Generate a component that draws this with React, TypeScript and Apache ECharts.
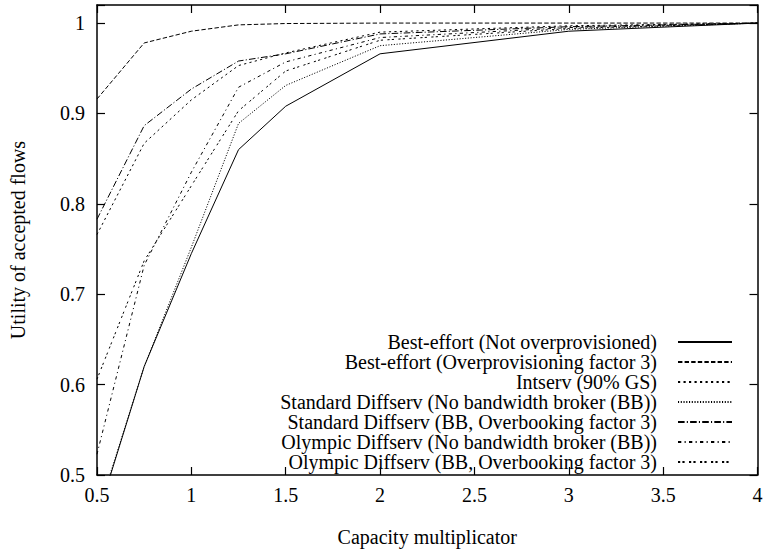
import React, { useEffect, useRef } from "react";
import * as echarts from "echarts";

const capacity = [0.5, 0.75, 1, 1.25, 1.5, 2, 3, 4];

const bestEffort = [0.452, 0.62, 0.745, 0.86, 0.908, 0.966, 0.991, 1.0];
const bestEffortOver = [0.916, 0.978, 0.991, 0.998, 0.9995, 1.0, 1.0, 1.0];
const intserv = [0.766, 0.867, 0.915, 0.953, 0.967, 0.99, 0.997, 1.0];
const stdNoBB = [0.455, 0.62, 0.752, 0.889, 0.931, 0.975, 0.993, 1.0];
const stdBB = [0.783, 0.8865, 0.927, 0.958, 0.966, 0.988, 0.996, 1.0];
const olyNoBB = [0.523, 0.732, 0.835, 0.929, 0.957, 0.984, 0.995, 1.0];
const olyBB = [0.606, 0.737, 0.82, 0.903, 0.947, 0.981, 0.994, 1.0];

const seriesNames = [
  "Best-effort (Not overprovisioned)",
  "Best-effort (Overprovisioning factor 3)",
  "Intserv (90% GS)",
  "Standard Diffserv (No bandwidth broker (BB))",
  "Standard Diffserv (BB, Overbooking factor 3)",
  "Olympic Diffserv (No bandwidth broker (BB))",
  "Olympic Diffserv (BB, Overbooking factor 3)",
];
const seriesValues = [bestEffort, bestEffortOver, intserv, stdNoBB, stdBB, olyNoBB, olyBB];

const yTicks = [0.5, 0.6, 0.7, 0.8, 0.9, 1];

const FONT = '"Liberation Serif", "Times New Roman", serif';
const FS = 20;

export default function App() {
  const ref = useRef<HTMLDivElement>(null);
  useEffect(() => {
    if (!ref.current) return;
    const chart = echarts.init(ref.current, undefined, { renderer: "svg" });
    const dl = 1.1;
    const dashes: any[] = [
      "solid",
      [4 * dl, 2 * dl],
      [2 * dl, 3 * dl],
      [1 * dl, 1.5 * dl],
      [6 * dl, 2 * dl, 1 * dl, 2 * dl],
      [3 * dl, 3 * dl, 1 * dl, 3 * dl],
      [2 * dl, 2 * dl, 2 * dl, 4 * dl],
    ];
    const yFmt = (v: number) => {
      const hit = yTicks.find((t) => Math.abs(t - v) < 1e-6);
      return hit === undefined ? "" : String(hit);
    };
    const axisLine = { show: true, lineStyle: { color: "#000", width: 1.5 } };
    const axisTick = { show: true, inside: true, length: 8, lineStyle: { color: "#000", width: 1.2 } };
    const labelStyle = { color: "#000", fontFamily: FONT, fontSize: FS };
    chart.setOption({
      animation: false,
      backgroundColor: "#fff",
      textStyle: { fontFamily: FONT },
      grid: { left: 97, right: 9.5, top: 5, bottom: 74, containLabel: false },
      legend: {
        orient: "vertical",
        right: 34,
        top: 332,
        align: "right",
        itemWidth: 54,
        itemHeight: 20,
        itemGap: 0,
        padding: 0,
        selectedMode: false,
        data: seriesNames,
        itemStyle: { color: "transparent", borderColor: "transparent", borderWidth: 0, opacity: 0 },
        formatter: (n: string) => `{a|${n}}`,
        textStyle: {
          color: "#000",
          fontFamily: FONT,
          fontSize: FS,
          rich: { a: { color: "#000", fontFamily: FONT, fontSize: FS, padding: [0, 16, 0, 0] } },
        },
      },
      xAxis: [
        {
          type: "value",
          min: 0.5,
          max: 4,
          interval: 0.5,
          name: "Capacity multiplicator",
          nameLocation: "middle",
          nameGap: 52,
          nameTextStyle: labelStyle,
          axisLine,
          axisTick,
          splitLine: { show: false },
          axisLabel: { ...labelStyle, margin: 10 },
        },
        {
          type: "value",
          position: "top",
          min: 0.5,
          max: 4,
          interval: 0.5,
          axisLine,
          axisTick,
          splitLine: { show: false },
          axisLabel: { show: false },
        },
      ],
      yAxis: [
        {
          type: "value",
          min: 0.5,
          max: 1.02,
          interval: 0.1,
          name: "Utility of accepted flows",
          nameLocation: "middle",
          nameGap: 69,
          nameTextStyle: labelStyle,
          axisLine,
          axisTick,
          splitLine: { show: false },
          axisLabel: { ...labelStyle, margin: 12, formatter: yFmt },
        },
        {
          type: "value",
          position: "right",
          min: 0.5,
          max: 1.02,
          interval: 0.1,
          axisLine,
          axisTick,
          splitLine: { show: false },
          axisLabel: { show: false },
        },
      ],
      series: seriesNames.map((name, i) => ({
        name,
        type: "line",
        xAxisIndex: 0,
        yAxisIndex: 0,
        data: capacity.map((x, k) => [x, seriesValues[i][k]]),
        symbol: "none",
        showSymbol: false,
        silent: true,
        clip: true,
        lineStyle: { color: "#000", width: 1, type: dashes[i] },
        itemStyle: { color: "#000" },
        emphasis: { disabled: true },
      })),
    });
    return () => chart.dispose();
  }, []);
  return (
    <div
      ref={ref}
      style={{ position: "fixed", left: 0, top: 0, width: 767, height: 552, background: "#fff" }}
    />
  );
}
